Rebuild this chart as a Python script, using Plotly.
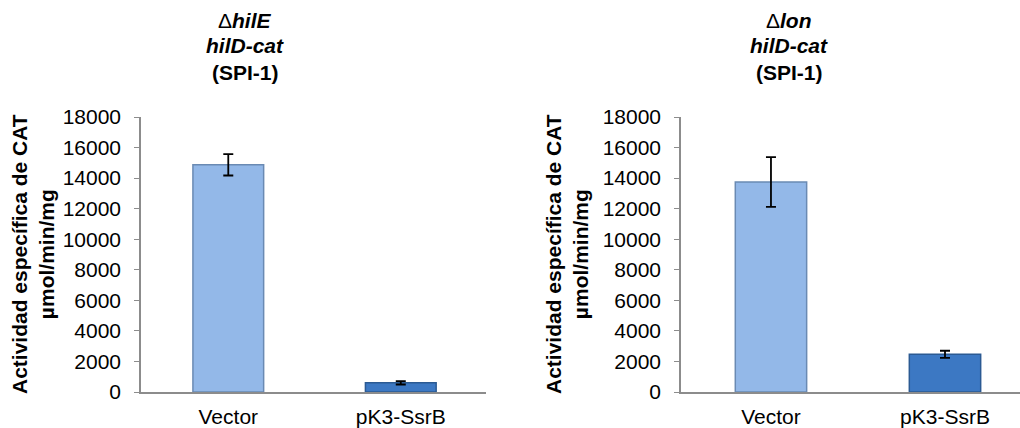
import plotly.graph_objects as go

categories = ["Vector", "pK3-SsrB"]
hilE_values = [14870, 600]
hilE_errors = [700, 110]
lon_values = [13750, 2470]
lon_errors = [1630, 230]
y_ticks = [0, 2000, 4000, 6000, 8000, 10000, 12000, 14000, 16000, 18000]
bar_fill = ["#93B8E8", "#3C78C3"]
bar_edge = ["#6A8AB3", "#2B5A93"]

W, H = 1020, 428
FONT = "Liberation Sans, Arial, sans-serif"

fig = go.Figure()
xpos = list(range(len(categories)))

for vals, errs, xa, ya in [(hilE_values, hilE_errors, "x", "y"),
                           (lon_values, lon_errors, "x2", "y2")]:
    fig.add_trace(go.Bar(
        x=xpos, y=vals, width=0.41,
        marker=dict(color=bar_fill, line=dict(color=bar_edge, width=1.5)),
        error_y=dict(type="data", array=errs, visible=True, color="black",
                     thickness=1.8, width=5),
        xaxis=xa, yaxis=ya, showlegend=False, hoverinfo="skip",
    ))

def px_x(p):
    return p / W

def px_y(p):
    return 1 - p / H

ydom = [px_y(392), px_y(117)]
axis_common = dict(showline=True, linecolor="#8C8C8C", linewidth=1.5,
                   showgrid=False, zeroline=False, automargin=False)
yaxis_common = dict(axis_common, range=[0, 18000], tickvals=y_ticks,
                    tickformat="d",
                    ticks="outside", ticklen=5, tickcolor="#8C8C8C",
                    tickfont=dict(family=FONT, size=21, color="black"),
                    ticklabelstandoff=9)
xaxis_common = dict(axis_common, tickvals=xpos, ticktext=categories, ticks="",
                    tickfont=dict(family=FONT, size=21, color="black"),
                    ticklabelstandoff=5)

fig.update_layout(
    width=W, height=H,
    margin=dict(l=0, r=0, t=0, b=0, autoexpand=False),
    paper_bgcolor="white", plot_bgcolor="white",
    bargap=0.5,
    xaxis=dict(xaxis_common, domain=[px_x(141), px_x(486)], range=[-0.506, 1.494], anchor="y"),
    yaxis=dict(yaxis_common, domain=ydom, anchor="x"),
    xaxis2=dict(xaxis_common, domain=[px_x(681), 1.0], range=[-0.517, 1.431], anchor="y2"),
    yaxis2=dict(yaxis_common, domain=ydom, anchor="x2"),
)

title_font = dict(family=FONT, size=21, color="black")
titles = [
    (245, ["\u0394<b><i>hilE</i></b>", "<b><i>hilD-cat</i></b>", "<b>(SPI-1)</b>"]),
    (789, ["\u0394<b><i>lon</i></b>", "<b><i>hilD-cat</i></b>", "<b>(SPI-1)</b>"]),
]
for cx, lines in titles:
    for ly, txt in zip([20, 46, 72], lines):
        fig.add_annotation(text=txt, xref="paper", yref="paper",
                           x=px_x(cx), y=px_y(ly), xanchor="center", yanchor="middle",
                           showarrow=False, font=title_font)

ytitle = "<b>Actividad específica de CAT<br>µmol/min/mg</b>"
for cx in [33, 567]:
    fig.add_annotation(text=ytitle, xref="paper", yref="paper",
                       x=px_x(cx), y=px_y(254), xanchor="center", yanchor="middle",
                       textangle=-90, showarrow=False,
                       font=dict(family=FONT, size=21, color="black"))

fig.write_html("out.html", config={"displayModeBar": False},
               post_script="document.body.style.margin='0';document.body.style.overflow='hidden';")
